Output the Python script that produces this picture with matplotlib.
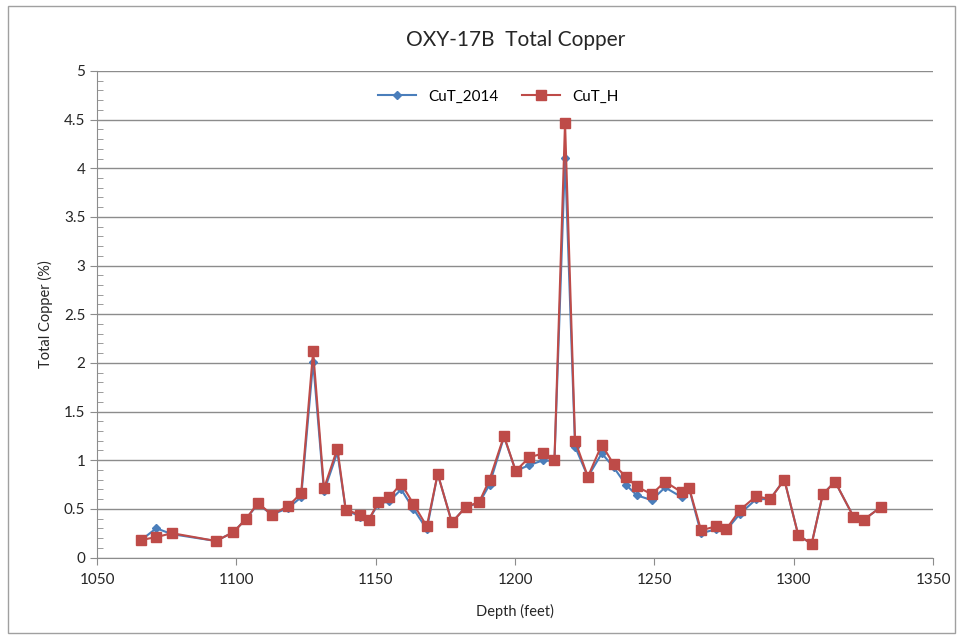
import matplotlib
matplotlib.use('Agg')
import matplotlib.pyplot as plt
from matplotlib.patches import Rectangle
from matplotlib.ticker import MultipleLocator

plt.rcParams['font.family'] = ['Lato', 'DejaVu Sans']

# Depth (feet) and copper assays
depth = [1065.8, 1071.2, 1076.9, 1092.6, 1098.9, 1103.5, 1107.7, 1112.7, 1118.6, 1123.2,
         1127.5, 1131.4, 1136.2, 1139.2, 1144.4, 1147.5, 1150.9, 1154.9, 1159.1, 1163.5,
         1168.3, 1172.2, 1177.3, 1182.3, 1187.1, 1190.8, 1196.0, 1200.2, 1205.1, 1210.1,
         1214.1, 1217.9, 1221.5, 1226.1, 1231.1, 1235.3, 1239.7, 1243.6, 1249.0, 1253.8,
         1259.8, 1262.5, 1266.7, 1272.1, 1275.7, 1280.7, 1286.5, 1291.5, 1296.6, 1301.6,
         1306.4, 1310.4, 1314.8, 1321.4, 1325.2, 1331.3]
cut_2014 = [0.18, 0.30, 0.24, 0.17, 0.26, 0.40, 0.55, 0.44, 0.51, 0.62,
            2.01, 0.68, 1.08, 0.49, 0.42, 0.39, 0.55, 0.58, 0.70, 0.50,
            0.29, 0.86, 0.36, 0.52, 0.56, 0.75, 1.24, 0.89, 0.95, 1.00,
            0.99, 4.11, 1.14, 0.83, 1.07, 0.93, 0.75, 0.64, 0.59, 0.72,
            0.62, 0.70, 0.25, 0.29, 0.28, 0.45, 0.60, 0.60, 0.80, 0.23,
            0.14, 0.65, 0.78, 0.42, 0.39, 0.52]
cut_h = [0.18, 0.21, 0.25, 0.17, 0.26, 0.40, 0.56, 0.44, 0.53, 0.66,
         2.12, 0.71, 1.12, 0.49, 0.44, 0.39, 0.57, 0.62, 0.76, 0.55,
         0.32, 0.86, 0.36, 0.52, 0.57, 0.80, 1.25, 0.89, 1.03, 1.07,
         1.00, 4.47, 1.20, 0.83, 1.16, 0.96, 0.83, 0.73, 0.65, 0.78,
         0.67, 0.71, 0.28, 0.32, 0.29, 0.49, 0.63, 0.60, 0.80, 0.23,
         0.14, 0.65, 0.78, 0.42, 0.39, 0.52]

fig = plt.figure(figsize=(9.62, 6.39), dpi=100)
ax = fig.add_axes([0.101, 0.1275, 0.869, 0.7615])

# outer chart border
fig.patches.append(Rectangle((8 / 962, 6 / 639), 947 / 962, 627 / 639, transform=fig.transFigure,
                             fill=False, edgecolor='#a0a0a0', linewidth=1))

ax.plot(depth, cut_2014, color='#4a7ebb', linewidth=1.5, marker='D', markersize=4,
        label='CuT_2014', zorder=3)
ax.plot(depth, cut_h, color='#be4b48', linewidth=1.5, marker='s', markersize=7,
        label='CuT_H', zorder=4)

ax.set_xlim(1050, 1350)
ax.set_ylim(0, 5)
ax.xaxis.set_major_locator(MultipleLocator(50))
ax.yaxis.set_major_locator(MultipleLocator(0.5))
ax.yaxis.set_minor_locator(MultipleLocator(0.1))
ax.yaxis.set_major_formatter(plt.FuncFormatter(lambda v, p: f'{v:g}'))
ax.grid(axis='y', which='major', color='#8c8c8c', linewidth=1)
ax.set_axisbelow(True)

for side in ['top', 'right']:
    ax.spines[side].set_visible(False)
for side in ['left', 'bottom']:
    ax.spines[side].set_color('#8c8c8c')

ax.tick_params(axis='both', which='major', labelsize=11, colors='#8c8c8c', labelcolor='#262626',
               length=5, direction='out')
ax.tick_params(axis='x', which='major', pad=6)
ax.tick_params(axis='y', which='minor', colors='#8c8c8c', length=4, direction='in')

ax.set_title('OXY-17B  Total Copper', fontsize=15, pad=18, color='#262626')
ax.set_xlabel('Depth (feet)', fontsize=10.5, color='#262626', labelpad=12)
ax.set_ylabel('Total Copper (%)', fontsize=10.5, color='#262626', labelpad=8)

ax.legend(loc='upper center', bbox_to_anchor=(0.48, 0.99), ncol=2, frameon=False,
          fontsize=11, handlelength=2.5, columnspacing=1.5)

fig.savefig('out.png', dpi=100, facecolor='white')
